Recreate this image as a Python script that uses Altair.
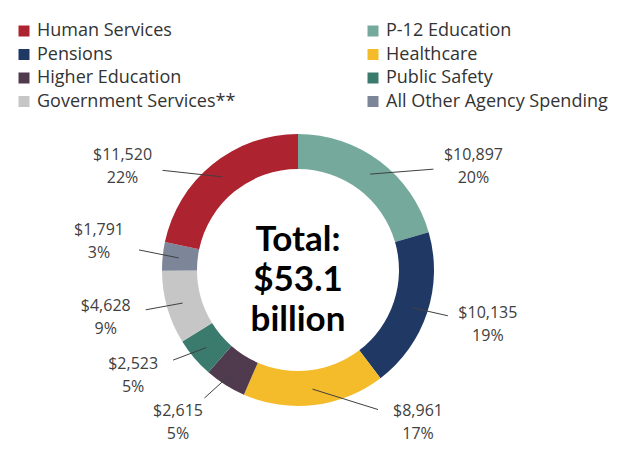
import numpy as np
import pandas as pd
import altair as alt

# ---- data ----
categories = ["Human Services", "P-12 Education", "Pensions", "Healthcare",
              "Higher Education", "Public Safety", "Government Services**",
              "All Other Agency Spending"]
values = [11520, 10897, 10135, 8961, 2615, 2523, 4628, 1791]   # $ millions
percents = [22, 20, 19, 17, 5, 5, 9, 3]
colors = ["#AD2430", "#75A99C", "#1F3864", "#F4BC2B",
          "#4F3A4E", "#3B7B6D", "#C6C6C6", "#7D8599"]
slice_order = ["P-12 Education", "Pensions", "Healthcare", "Higher Education",
               "Public Safety", "Government Services**",
               "All Other Agency Spending", "Human Services"]
# legend is filled column by column: left column, then right column
legend_order = ["Human Services", "Pensions", "Higher Education",
                "Government Services**", "P-12 Education", "Healthcare",
                "Public Safety", "All Other Agency Spending"]

# ---- layout constants ----
W, H = 620, 435
CX, CY = 290, 262          # donut centre in chart pixels
R_OUT, R_IN = 136, 101
R_START = 120              # leader line start radius
R_LAB = 200                # label radius
LAB_UP = 8                 # label circle centre sits a little above the donut centre
TOP_LIM, BOT_LIM = -96, 160   # relative to the label circle centre
HW, HH = 40, 24            # label half box for leader clipping
CHAR_W, BOX_H = 8.6, 46    # label box estimate for collision avoidance
TXT = "#404040"

df = pd.DataFrame({"cat": categories, "value": values, "pct": percents})
df["ord"] = [slice_order.index(c) for c in df["cat"]]
df = df.sort_values("ord").reset_index(drop=True)
df["vlab"] = [f"${v:,}" for v in df["value"]]
df["plab"] = [f"{p}%" for p in df["pct"]]
total = float(df["value"].sum())
cum = df["value"].cumsum() / total
mid = ((cum - df["value"] / (2 * total)) * 2 * np.pi).to_numpy()

# initial label anchors: radial at the slice mid-angle, kept inside a band
lx = R_LAB * np.sin(mid)
ly = -R_LAB * np.cos(mid)
side = np.sign(np.sin(mid))


def on_circle(y, sd):
    y = min(max(y, TOP_LIM), BOT_LIM)
    return sd * np.sqrt(max(R_LAB ** 2 - y ** 2, 0.0)), y


for i in range(len(df)):
    lx[i], ly[i] = on_circle(ly[i], side[i])

# simple collision avoidance: on each side, push labels upward along the circle
widths = np.array([CHAR_W * len(v) for v in df["vlab"]])
for sd in (-1, 1):
    idx = [i for i in range(len(df)) if side[i] == sd]
    idx.sort(key=lambda i: -ly[i])
    placed = []
    for i in idx:
        for _ in range(300):
            hit = any(abs(lx[i] - lx[j]) < (widths[i] + widths[j]) / 2 + 4
                      and abs(ly[i] - ly[j]) < BOX_H for j in placed)
            if not hit:
                break
            lx[i], ly[i] = on_circle(ly[i] - 1, sd)
        placed.append(i)
ly = ly - LAB_UP

# leader lines: from inside the ring to the edge of the label box
sx = R_START * np.sin(mid)
sy = -R_START * np.cos(mid)
ex, ey = [], []
for i in range(len(df)):
    dx, dy = lx[i] - sx[i], ly[i] - sy[i]
    s = min(HW / abs(dx) if dx else 9e9, HH / abs(dy) if dy else 9e9, 1.0)
    ex.append(lx[i] - s * dx)
    ey.append(ly[i] - s * dy)
df["sx"], df["sy"], df["lx"], df["ly"], df["ex"], df["ey"] = sx, sy, lx, ly, ex, ey

xs = alt.Scale(domain=[-CX, W - CX], nice=False, zero=False)
ys = alt.Scale(domain=[-CY, H - CY], nice=False, zero=False, reverse=True)

base = alt.Chart(df)

arcs = base.mark_arc(outerRadius=R_OUT, innerRadius=R_IN, strokeWidth=0).encode(
    theta=alt.Theta("value:Q", stack=True),
    order=alt.Order("ord:Q", sort="ascending"),
    x=alt.X(datum=0, scale=xs, axis=None),
    y=alt.Y(datum=0, scale=ys, axis=None),
    color=alt.Color(
        "cat:N",
        scale=alt.Scale(domain=legend_order,
                        range=[colors[categories.index(c)] for c in legend_order]),
        legend=alt.Legend(
            orient="none", legendX=7, legendY=14, columns=2,
            columnPadding=128, rowPadding=5.5, title=None,
            symbolType="square", symbolSize=121, symbolStrokeWidth=0,
            symbolOpacity=1, labelFont="Open Sans", labelFontSize=18,
            labelColor="#333333", labelLimit=400, labelOffset=4,
        ),
    ),
)

leaders = base.mark_rule(color=TXT, strokeWidth=1).encode(
    x=alt.X("sx:Q", scale=xs, axis=None),
    y=alt.Y("sy:Q", scale=ys, axis=None),
    x2="ex:Q", y2="ey:Q",
)

vtext = base.mark_text(font="Open Sans", fontSize=16, color=TXT, dy=-11.5).encode(
    x=alt.X("lx:Q", scale=xs, axis=None),
    y=alt.Y("ly:Q", scale=ys, axis=None),
    text="vlab:N",
)
ptext = base.mark_text(font="Open Sans", fontSize=16, color=TXT, dy=11.5).encode(
    x=alt.X("lx:Q", scale=xs, axis=None),
    y=alt.Y("ly:Q", scale=ys, axis=None),
    text="plab:N",
)

center = alt.Chart(pd.DataFrame({"t": [total]})).mark_text(
    text=["Total:", f"${total / 1000:.1f}", "billion"],
    font="Lato", fontWeight="bold", fontSize=35, lineHeight=40,
    color="#000000", baseline="middle", align="center", dy=-30, dx=0,
).encode(
    x=alt.X(datum=0, scale=xs, axis=None),
    y=alt.Y(datum=0, scale=ys, axis=None),
)

chart = alt.layer(arcs, leaders, vtext, ptext, center).properties(
    width=W, height=H, padding=0
).configure_view(stroke=None)

chart.save("out.html", embed_options={"renderer": "svg", "actions": False})
